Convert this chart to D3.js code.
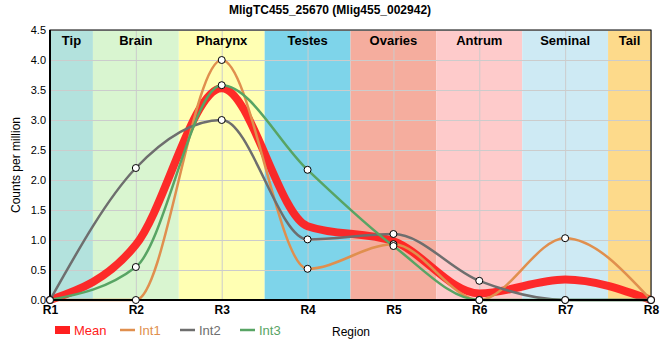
<!DOCTYPE html>
<html>
<head>
<meta charset="utf-8">
<script src="https://cdn.jsdelivr.net/npm/d3@7"></script>
<style>
  body { margin: 0; background: #fff; }
  text { font-family: "Liberation Sans", Arial, sans-serif; }
</style>
</head>
<body>
<svg width="660" height="360"></svg>
<script>
;(function (d3) {
  var regions = ['R1', 'R2', 'R3', 'R4', 'R5', 'R6', 'R7', 'R8']
  var int1 = [0, 0, 4.0, 0.52, 0.93, 0, 1.03, 0]
  var int2 = [0, 2.2, 3.0, 1.01, 1.1, 0.32, 0, 0]
  var int3 = [0, 0.55, 3.58, 2.17, 0.9, 0, 0, 0]
  var mean = [0, 0.92, 3.53, 1.23, 0.98, 0.11, 0.34, 0]

  var bandNames = ['Tip', 'Brain', 'Pharynx', 'Testes', 'Ovaries', 'Antrum', 'Seminal', 'Tail']
  var bandStart = [0, 0.5, 1.5, 2.5, 3.5, 4.5, 5.5, 6.5]
  var bandEnd = [0.5, 1.5, 2.5, 3.5, 4.5, 5.5, 6.5, 7]
  var bandColors = ['#b3e2dd', '#d9f5d0', '#ffffb3', '#7ed4ea', '#f5ad9e', '#fecbcb', '#ceeaf4', '#fdda8b']

  var yTicks = [0, 0.5, 1, 1.5, 2, 2.5, 3, 3.5, 4, 4.5]

  var series = [
    {name: 'Mean', values: mean, color: '#ff2020', width: 8, dots: false},
    {name: 'Int1', values: int1, color: '#e08f4e', width: 2.5, dots: true},
    {name: 'Int2', values: int2, color: '#6e6e6e', width: 2.5, dots: true},
    {name: 'Int3', values: int3, color: '#58a464', width: 2.5, dots: true}
  ]

  var svg = d3.select('svg')
  var left = 50
  var right = 651
  var top = 30
  var bottom = 300

  var x = d3.scaleLinear().domain([0, 7]).range([left, right])
  var y = d3.scaleLinear().domain([0, 4.5]).range([bottom, top])

  svg.append('text')
    .attr('x', 330)
    .attr('y', 14)
    .attr('text-anchor', 'middle')
    .style('font-weight', 'bold')
    .style('font-size', '12px')
    .text('MligTC455_25670 (Mlig455_002942)')

  // region bands
  svg.selectAll('rect.band')
    .data(bandNames)
    .enter()
    .append('rect')
    .attr('class', 'band')
    .attr('x', function (d, i) { return x(bandStart[i]) })
    .attr('width', function (d, i) { return x(bandEnd[i]) - x(bandStart[i]) })
    .attr('y', top)
    .attr('height', bottom - top)
    .style('fill', function (d, i) { return bandColors[i] })

  // grid
  svg.append('g')
    .attr('transform', 'translate(' + left + ',0)')
    .call(d3.axisLeft(y).tickValues(yTicks).tickSize(-(right - left)).tickFormat(''))
    .call(function (g) {
      g.select('.domain').remove()
      g.selectAll('line').style('stroke', '#cccccc').style('stroke-width', 1)
    })
  svg.append('g')
    .attr('transform', 'translate(0,' + bottom + ')')
    .call(d3.axisBottom(x).tickValues(d3.range(regions.length)).tickSize(-(bottom - top)).tickFormat(''))
    .call(function (g) {
      g.select('.domain').remove()
      g.selectAll('line').style('stroke', '#cccccc').style('stroke-width', 1)
    })

  svg.selectAll('text.band')
    .data(bandNames)
    .enter()
    .append('text')
    .attr('class', 'band')
    .attr('x', function (d, i) { return (x(bandStart[i]) + x(bandEnd[i])) / 2 })
    .attr('y', 45)
    .attr('text-anchor', 'middle')
    .style('font-weight', 'bold')
    .style('font-size', '13px')
    .text(function (d) { return d })

  var line = d3.line()
    .x(function (d, i) { return x(i) })
    .y(function (d) { return y(d) })
    .curve(d3.curveMonotoneX)

  // mean goes underneath the individual series
  var plot = svg.append('g')
  series.forEach(function (s) {
    plot.append('path')
      .attr('d', line(s.values))
      .style('fill', 'none')
      .style('stroke', s.color)
      .style('stroke-opacity', s.dots ? 1 : 0.95)
      .style('stroke-width', s.width)
      .style('stroke-linecap', 'round')
  })

  // frame
  svg.append('rect')
    .attr('x', left).attr('y', top)
    .attr('width', right - left).attr('height', bottom - top)
    .style('fill', 'none').style('stroke', '#000').style('stroke-width', 1)
  svg.append('line')
    .attr('x1', left).attr('x2', left).attr('y1', top).attr('y2', bottom)
    .style('stroke', '#000').style('stroke-width', 2)
  svg.append('line')
    .attr('x1', left).attr('x2', right).attr('y1', bottom).attr('y2', bottom)
    .style('stroke', '#000').style('stroke-width', 2)

  series.forEach(function (s) {
    if (!s.dots) return
    svg.selectAll(null)
      .data(s.values)
      .enter()
      .append('circle')
      .attr('cx', function (d, i) { return x(i) })
      .attr('cy', function (d) { return y(d) })
      .attr('r', 3.5)
      .style('fill', '#fff')
      .style('stroke', '#000')
      .style('stroke-width', 1)
  })

  // axes labels
  var yAxis = svg.append('g')
    .attr('transform', 'translate(' + left + ',0)')
    .call(d3.axisLeft(y).tickValues(yTicks).tickSize(0).tickPadding(4).tickFormat(d3.format('.1f')))
  yAxis.select('.domain').remove()
  yAxis.selectAll('text').style('font-size', '11px').style('font-family', '"Liberation Sans", Arial, sans-serif')

  var xAxis = svg.append('g')
    .attr('transform', 'translate(0,' + bottom + ')')
    .call(d3.axisBottom(x).tickValues(d3.range(regions.length)).tickSize(0).tickPadding(5)
      .tickFormat(function (d) { return regions[d] }))
  xAxis.select('.domain').remove()
  xAxis.selectAll('text')
    .style('font-size', '12px')
    .style('font-weight', 'bold')
    .style('font-family', '"Liberation Sans", Arial, sans-serif')

  svg.append('text')
    .attr('transform', 'translate(20,165) rotate(-90)')
    .attr('text-anchor', 'middle')
    .style('font-size', '12px')
    .text('Counts per million')

  svg.append('text')
    .attr('x', 332)
    .attr('y', 336)
    .style('font-size', '12px')
    .text('Region')

  // legend
  var lx = [55, 120, 180, 240]
  var legend = svg.selectAll('g.legend')
    .data(series)
    .enter()
    .append('g')
    .attr('class', 'legend')
    .attr('transform', function (d, i) { return 'translate(' + lx[i] + ',330)' })
  legend.append('line')
    .attr('x1', 0).attr('x2', 15).attr('y1', 0).attr('y2', 0)
    .style('stroke', function (d) { return d.color })
    .style('stroke-width', function (d) { return d.dots ? 2.5 : 8 })
  legend.append('text')
    .attr('x', 19)
    .attr('y', 5)
    .style('font-size', '13px')
    .style('fill', function (d) { return d.color })
    .text(function (d) { return d.name })
})(window.d3)
</script>
</body>
</html>
